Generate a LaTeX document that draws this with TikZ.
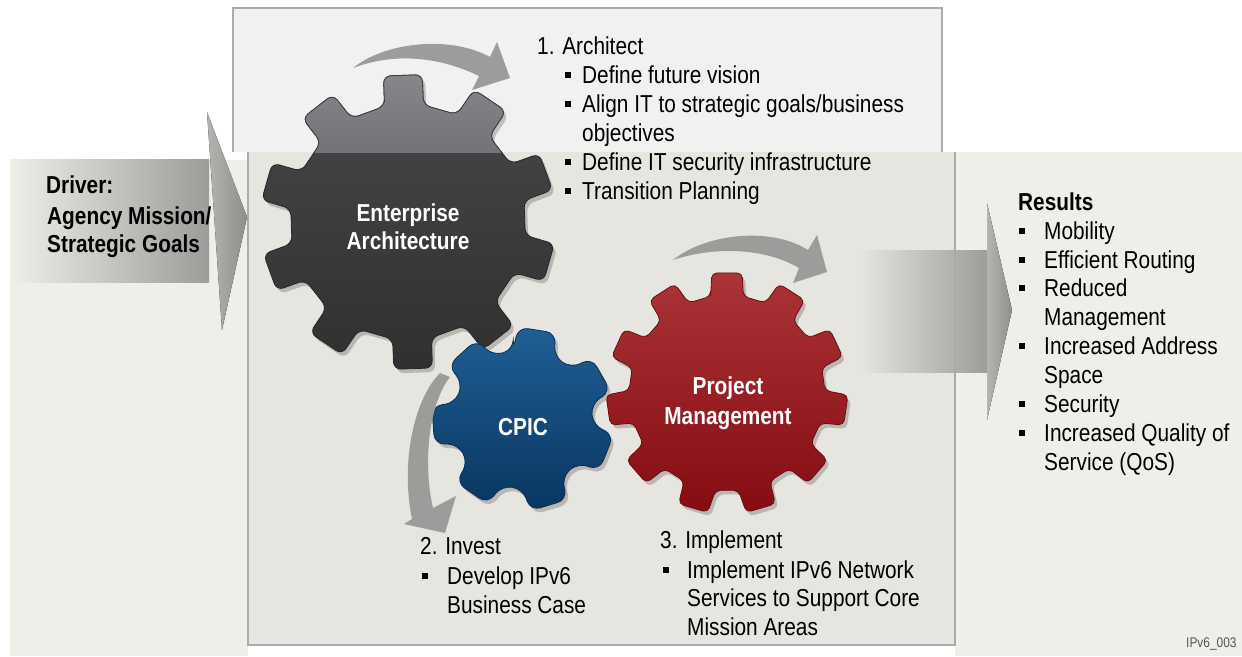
\documentclass[tikz,border=0pt]{standalone}
\usepackage{fontspec}
\setmainfont{Liberation Sans}[FakeStretch=0.85]
\definecolor{bgbeige}{HTML}{EFEEE8}
\definecolor{panelfill}{HTML}{E6E5DF}
\definecolor{toppanel}{HTML}{F1F1F1}
\definecolor{framegray}{HTML}{ABABAB}
\definecolor{arrowgray}{HTML}{9C9C9A}
\definecolor{arrowdark}{HTML}{8E8E8A}
\definecolor{arrowlight}{HTML}{B4B4B0}
\definecolor{eatop}{HTML}{474847}
\definecolor{eabot}{HTML}{2F302F}
\definecolor{eaedge}{HTML}{262626}
\definecolor{eagraytop}{HTML}{85878B}
\definecolor{eagraybot}{HTML}{3A3C40}
\definecolor{bluetop}{HTML}{1F5F95}
\definecolor{bluebot}{HTML}{0A3560}
\definecolor{blueedge}{HTML}{0A2E52}
\definecolor{redtop}{HTML}{AA3438}
\definecolor{redbot}{HTML}{850C11}
\definecolor{rededge}{HTML}{6E0A0E}
\definecolor{tagtext}{HTML}{555555}
% gear outline: #1 teeth, #2 outer radius, #3 root radius, #4 phase, #5 tip half angle, #6 root half angle
\newcommand\gearpath[6]{%
  ({#4-#6}:#3)
  \foreach \kk [evaluate=\kk as \gA using {#4+(\kk-1)*360/#1}, evaluate=\kk as \gB using {#4+\kk*360/#1}] in {1,...,#1}
  { -- ({\gA-#5}:#2) -- ({\gA+#5}:#2) -- ({\gA+#6}:#3) -- ({\gB-#6}:#3) } -- cycle}
\newcommand\bulsq[2]{\fill (#1,#2-11) rectangle ++(6,6);}
\begin{document}
\begin{tikzpicture}[x=1pt,y=-1pt,
  txt/.style={anchor=base west, inner sep=0pt, font=\fontsize{24.5}{28}\selectfont},
  btxt/.style={anchor=base west, inner sep=0pt, font=\fontsize{24.5}{28}\selectfont\bfseries},
  geartxt/.style={anchor=base, inner sep=0pt, text=white, font=\fontsize{24.5}{28}\selectfont\bfseries},
  curvearrow/.style={fill=arrowgray},
  gearshadow/.style={fill=black, opacity=0.2},
]
\useasboundingbox (0,0) rectangle (1242,656);
\fill[white] (0,0) rectangle (1242,656);
% backgrounds
\fill[bgbeige] (10,160) rectangle (248,656);
\fill[bgbeige] (955,152) rectangle (1242,656);
\fill[panelfill] (248,152) rectangle (955,645);
\fill[toppanel] (233,8) rectangle (942,152);
\draw[framegray, line width=1.2] (233,152) -- (233,8) -- (942,8) -- (942,152);

% driver arrow
\fill[left color=bgbeige, middle color=bgbeige!70!arrowgray, right color=arrowgray] (10,159) rectangle (209,282);
\fill[left color=arrowlight, right color=arrowdark] (207,112) -- (247,217) -- (222,330) -- cycle;

% results arrow
\fill[left color=panelfill, right color=arrowgray] (860,250) rectangle (988,372);
\fill[left color=arrowlight, right color=arrowdark] (987,203) -- (1012,310) -- (987,420) -- cycle;

% Enterprise Architecture gear
\fill[gearshadow, shift={(411,226)}, rounded corners=7] \gearpath{10}{148}{118}{-92}{7.5}{9.5};
\path[shift={(408,222)}, rounded corners=7, top color=eatop, bottom color=eabot, draw=eaedge, line width=0.8] \gearpath{10}{148}{118}{-92}{7.5}{9.5};
\begin{scope}
  \clip (0,0) rectangle (1242,152);
  \path[shift={(408,222)}, rounded corners=7, top color=eagraytop, bottom color=eagraybot, draw=eagraybot, line width=0.8] \gearpath{10}{148}{118}{-92}{7.5}{9.5};
\end{scope}

% CPIC gear
\fill[gearshadow, shift={(526,423)}, rounded corners=10] \gearpath{7}{92}{70}{-81}{12}{17};
\path[shift={(523,419)}, rounded corners=10, top color=bluetop, bottom color=bluebot, draw=blueedge, line width=0.8] \gearpath{7}{92}{70}{-81}{12}{17};

% Project Management gear
\fill[gearshadow, shift={(730,397)}, rounded corners=5] \gearpath{11}{121}{98}{-90}{7.2}{9.6};
\path[shift={(727,393)}, rounded corners=5, top color=redtop, bottom color=redbot, draw=rededge, line width=0.8] \gearpath{11}{121}{98}{-90}{7.2}{9.6};

% curved arrows
\fill[curvearrow] (353,68) .. controls (385,42) and (450,35) .. (490,57) -- (497,42) -- (510,78) -- (472,90) -- (479,76) .. controls (440,57) and (395,52) .. (353,68) -- cycle;
\fill[curvearrow] (673,260) .. controls (705,234) and (770,226) .. (808,250) -- (817,235) -- (827,272) -- (793,283) -- (799,268) .. controls (765,248) and (715,246) .. (673,260) -- cycle;
\fill[curvearrow] (440,373) .. controls (415,398) and (400,460) .. (412,519) -- (404,524) -- (445,533) -- (456,496) -- (433,508) .. controls (423,465) and (428,405) .. (450,377) -- cycle;

% panel frame lines
\draw[framegray, line width=1.2] (248,152) -- (248,645) -- (955,645) -- (955,152);

% gear labels
\node[geartxt] (ea1) at (408,221) {Enterprise};
\node[geartxt] (ea2) at (408,249) {Architecture};
\node[geartxt] (cpic) at (523,435) {CPIC};
\node[geartxt] (pm1) at (728,394) {Project};
\node[geartxt] (pm2) at (728,424) {Management};

% driver text
\node[btxt] (drv1) at (46,193) {Driver:};
\node[btxt] (drv2) at (47,224) {Agency Mission/};
\node[btxt] (drv3) at (47,252) {Strategic Goals};

% 1. Architect
\node[txt] (ar0) at (537,54) {1. Architect};
\bulsq{565}{83}\node[txt] (ar1) at (582,83) {Define future vision};
\bulsq{565}{112}\node[txt] (ar2) at (582,112) {Align IT to strategic goals/business};
\node[txt] (ar3) at (582,141) {objectives};
\bulsq{565}{170}\node[txt] (ar4) at (582,170) {Define IT security infrastructure};
\bulsq{565}{199}\node[txt] (ar5) at (582,199) {Transition Planning};

% 2. Invest
\node[txt] (in0) at (420,554) {2. Invest};
\bulsq{422}{584}\node[txt] (in1) at (447,584) {Develop IPv6};
\node[txt] (in2) at (447,613) {Business Case};

% 3. Implement
\node[txt] (im0) at (660,548) {3. Implement};
\bulsq{663}{578}\node[txt] (im1) at (687,578) {Implement IPv6 Network};
\node[txt] (im2) at (687,606) {Services to Support Core};
\node[txt] (im3) at (687,635) {Mission Areas};

% Results
\node[btxt] (res0) at (1018,210) {Results};
\bulsq{1019}{239}\node[txt] (res1) at (1044,239) {Mobility};
\bulsq{1019}{268}\node[txt] (res2) at (1044,268) {Efficient Routing};
\bulsq{1019}{296}\node[txt] (res3) at (1044,296) {Reduced};
\node[txt] (res4) at (1044,325) {Management};
\bulsq{1019}{354}\node[txt] (res5) at (1044,354) {Increased Address};
\node[txt] (res6) at (1044,383) {Space};
\bulsq{1019}{412}\node[txt] (res7) at (1044,412) {Security};
\bulsq{1019}{441}\node[txt] (res8) at (1044,441) {Increased Quality of};
\node[txt] (res9) at (1044,470) {Service (QoS)};

% tag
\node[anchor=base west, inner sep=0pt, text=tagtext, font=\fontsize{14}{16}\selectfont] (tag) at (1186,647) {IPv6\_003};
\end{tikzpicture}
\end{document}
